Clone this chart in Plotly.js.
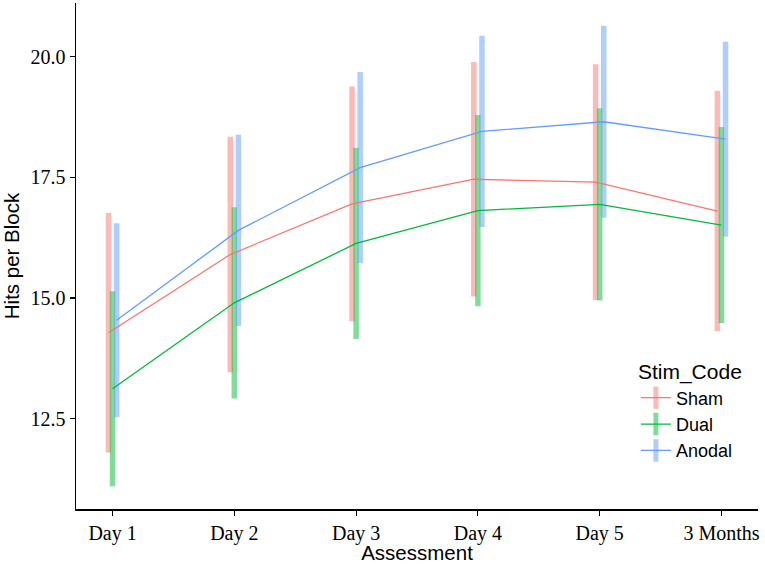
<!DOCTYPE html>
<html>
<head>
<meta charset="utf-8">
<script src="https://cdn.plot.ly/plotly-3.0.1.min.js"></script>
<style>
  html, body { margin: 0; padding: 0; background: #fff; }
  #chart { width: 765px; height: 564px; }
</style>
</head>
<body>
<div id="chart"></div>
<script>
'use strict';

// Data
let assessments = ['Day 1', 'Day 2', 'Day 3', 'Day 4', 'Day 5', '3 Months'];
let groups = ['Sham', 'Dual', 'Anodal'];

let sham_mean = [14.28, 15.90, 16.95, 17.46, 17.40, 16.80];
let sham_err = [2.48, 2.44, 2.43, 2.43, 2.44, 2.49];

let dual_mean = [13.12, 14.90, 16.13, 16.81, 16.94, 16.51];
let dual_err = [2.02, 1.98, 1.98, 1.98, 1.99, 2.03];

let anodal_mean = [14.54, 16.40, 17.70, 18.45, 18.65, 18.29];
let anodal_err = [2.01, 1.98, 1.98, 1.98, 1.99, 2.02];

let y_ticks = [12.5, 15.0, 17.5, 20.0];

// ggplot default hues
let colors = {
    Sham: '248,118,109',
    Dual: '0,186,56',
    Anodal: '97,156,255'
};
let dodge = {Sham: -1 / 30, Dual: 0, Anodal: 1 / 30};

function dodged(name) {
    let arr = [];
    for (let i = 0; i < assessments.length; i++) {
        arr.push(i + dodge[name]);
    }
    return arr;
}

let series = {
    Sham: [sham_mean, sham_err],
    Dual: [dual_mean, dual_err],
    Anodal: [anodal_mean, anodal_err]
};

let errTraces = [];
let lineTraces = [];
let keyTraces = [];

for (let g of groups) {
    let rgb = colors[g];
    let xs = dodged(g);
    errTraces.push({
        x: xs,
        y: series[g][0],
        type: 'scatter',
        mode: 'markers',
        marker: {size: 1, color: 'rgba(0,0,0,0)'},
        error_y: {
            type: 'data',
            array: series[g][1],
            visible: true,
            color: 'rgba(' + rgb + ',0.5)',
            thickness: 5.5,
            width: 0
        },
        showlegend: false,
        hoverinfo: 'skip'
    });
    lineTraces.push({
        x: xs,
        y: series[g][0],
        type: 'scatter',
        mode: 'lines',
        line: {color: 'rgb(' + rgb + ')', width: 1.3},
        name: g,
        showlegend: false
    });
    // legend key only
    keyTraces.push({
        x: [null],
        y: [null],
        type: 'scatter',
        mode: 'lines+markers',
        name: g,
        line: {color: 'rgb(' + rgb + ')', width: 1.3},
        marker: {
            symbol: 'line-ns',
            size: 16,
            color: 'rgba(' + rgb + ',0.5)',
            line: {width: 5, color: 'rgba(' + rgb + ',0.5)'}
        }
    });
}

let data = errTraces.concat(lineTraces, keyTraces);

let layout = {
    width: 765,
    height: 564,
    margin: {l: 76, r: 7, t: 3, b: 55},
    paper_bgcolor: '#fff',
    plot_bgcolor: '#fff',
    showlegend: true,
    xaxis: {
        range: [-0.3, 5.3],
        tickvals: [0, 1, 2, 3, 4, 5],
        ticktext: assessments,
        showgrid: false,
        zeroline: false,
        showline: true,
        linecolor: '#000',
        linewidth: 1.5,
        ticks: 'outside',
        ticklen: 5,
        tickwidth: 1.2,
        tickcolor: '#000',
        tickfont: {family: 'Liberation Serif, serif', size: 20, color: '#000'},
        title: {
            text: 'Assessment',
            standoff: 3,
            font: {family: 'Liberation Sans, Arial, sans-serif', size: 20.5, color: '#000'}
        }
    },
    yaxis: {
        range: [10.63, 21.11],
        tickvals: y_ticks,
        tickformat: '.1f',
        showgrid: false,
        zeroline: false,
        showline: true,
        linecolor: '#000',
        linewidth: 1.5,
        ticks: 'outside',
        ticklen: 5,
        tickwidth: 1.2,
        tickcolor: '#000',
        tickfont: {family: 'Liberation Serif, serif', size: 20, color: '#000'},
        title: {
            text: 'Hits per Block',
            standoff: 10,
            font: {family: 'Liberation Sans, Arial, sans-serif', size: 20.5, color: '#000'}
        }
    },
    legend: {
        x: 0.821,
        xanchor: 'left',
        y: 0.31,
        yanchor: 'top',
        bgcolor: 'rgba(0,0,0,0)',
        font: {family: 'Liberation Sans, Arial, sans-serif', size: 18, color: '#000'},
        title: {
            text: 'Stim_Code',
            font: {family: 'Liberation Sans, Arial, sans-serif', size: 21, color: '#000'}
        },
        tracegroupgap: 0
    }
};

let config = {
    displayModeBar: false,
    staticPlot: true
};

Plotly.newPlot('chart', data, layout, config);
</script>
</body>
</html>
